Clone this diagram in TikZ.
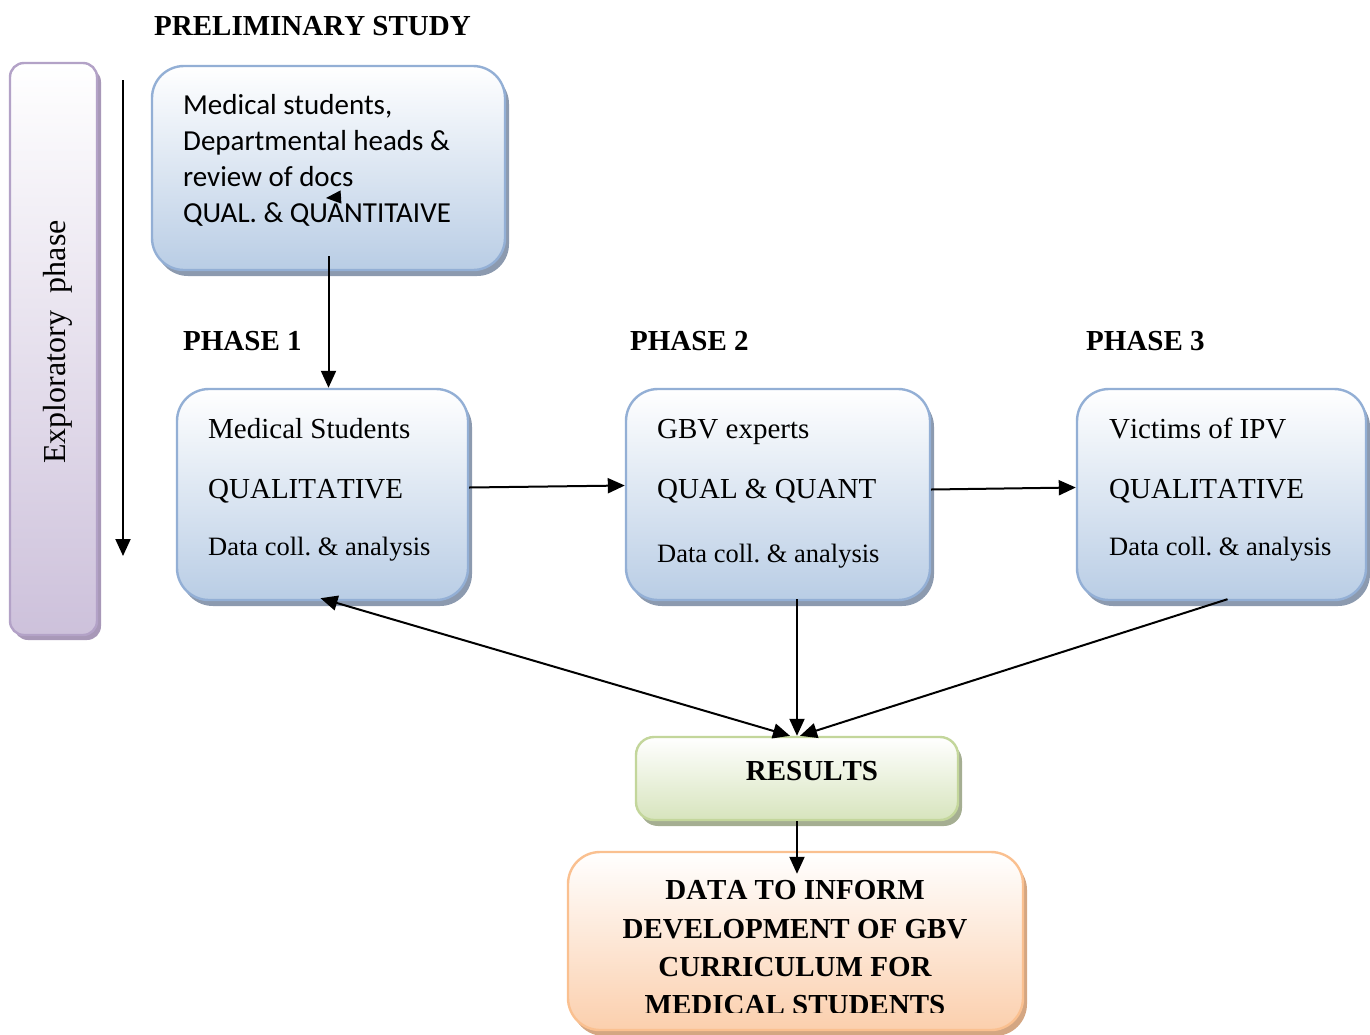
\documentclass[tikz,border=0pt]{standalone}
\usepackage{fontspec}
\setmainfont{Liberation Serif}[Kerning=Off]
\newfontfamily\calibrifont{Carlito}
\usetikzlibrary{arrows.meta,calc,shadows}
\frenchspacing

\definecolor{bluedge}{HTML}{93AFD5}
\definecolor{bluebot}{HTML}{B9CDE5}
\definecolor{blueshadow}{HTML}{8C9AAF}
\definecolor{greenedge}{HTML}{C3D69B}
\definecolor{greenbot}{HTML}{D7E4BD}
\definecolor{greenshadow}{HTML}{A5AE92}
\definecolor{orangeedge}{HTML}{FAC090}
\definecolor{orangebot}{HTML}{FBCFAD}
\definecolor{orangeshadow}{HTML}{D4A682}
\definecolor{purpleedge}{HTML}{B3A2C7}
\definecolor{purplebot}{HTML}{CDC1DB}
\definecolor{purpleshadow}{HTML}{A898B8}

\begin{document}
\begin{tikzpicture}[x=1pt,y=-1pt,
  >={Triangle[length=17pt,width=15pt]},
  card/.style={rounded corners=#1, line width=2.4pt, inner sep=0pt},
  bluecard/.style={card=32pt, draw=bluedge, top color=white, bottom color=bluebot,
    drop shadow={shadow xshift=4pt,shadow yshift=-6pt,fill=blueshadow,opacity=1}},
  greencard/.style={card=18pt, draw=greenedge, top color=white, bottom color=greenbot,
    drop shadow={shadow xshift=4pt,shadow yshift=-6pt,fill=greenshadow,opacity=1}},
  orangecard/.style={card=32pt, draw=orangeedge, top color=white, bottom color=orangebot,
    drop shadow={shadow xshift=4pt,shadow yshift=-6pt,fill=orangeshadow,opacity=1}},
  purplecard/.style={card=14pt, draw=purpleedge, top color=white, bottom color=purplebot,
    drop shadow={shadow xshift=4pt,shadow yshift=-5pt,fill=purpleshadow,opacity=1}},
  serif/.style={font=\fontsize{29}{35}\selectfont, anchor=base west, inner sep=0pt},
  small/.style={font=\fontsize{26.5}{32}\selectfont, anchor=base west, inner sep=0pt},
  headline/.style={font=\fontsize{29}{35}\selectfont\bfseries, anchor=base west, inner sep=0pt},
  centreline/.style={font=\fontsize{29}{35}\selectfont\bfseries, anchor=base, inner sep=0pt},
  cal/.style={font=\calibrifont\fontsize{29}{36}\selectfont, anchor=base west, inner sep=0pt},
  arr/.style={line width=2pt, ->},
  dblarr/.style={line width=2pt, <->},
]
\useasboundingbox (0,0) rectangle (1370,1034);

% boxes
\node[purplecard, minimum width=87pt, minimum height=572pt] (exp) at (53.5,349) {};
\node[bluecard, minimum width=353pt, minimum height=204pt] (top) at (328.5,168) {};
\node[bluecard, minimum width=291pt, minimum height=211pt] (p1) at (322.5,494.5) {};
\node[bluecard, minimum width=304pt, minimum height=211pt] (p2) at (778,494.5) {};
\node[bluecard, minimum width=289pt, minimum height=211pt] (p3) at (1221.5,494.5) {};
\node[greencard, minimum width=322pt, minimum height=83pt] (res) at (797,778.5) {};
\node[orangecard, minimum width=455pt, minimum height=178pt] (fin) at (795.5,941) {};

% headings
\node[headline] (prelim) at (154,35) {PRELIMINARY STUDY};
\node[headline] (ph1) at (183,350) {PHASE 1};
\node[headline] (ph2) at (630,350) {PHASE 2};
\node[headline] (ph3) at (1086,350) {PHASE 3};

% side label
\node[rotate=90, anchor=base, inner sep=0pt, font=\fontsize{32}{38}\selectfont] (explabel)
  at (65,342) {Exploratory\hspace{0.55em}phase};

% preliminary study text
\node[cal] (t1) at (183,114) {Medical students,};
\node[cal] (t2) at (183,150) {Departmental heads \&};
\node[cal] (t3) at (183,186) {review of docs};
\node[cal] (t4) at (183,222) {QUAL. \& QUANTITAIVE};

% phase 1
\node[serif] (a1) at (208,438) {Medical Students};
\node[serif] (a2) at (208,498) {QUALITATIVE};
\node[small] (a3) at (208,555) {Data coll. \& analysis};
% phase 2
\node[serif] (b1) at (657,438) {GBV experts};
\node[serif] (b2) at (657,498) {QUAL \& QUANT};
\node[small] (b3) at (657,562) {Data coll. \& analysis};
% phase 3
\node[serif] (c1) at (1109,438) {Victims of IPV};
\node[serif] (c2) at (1109,498) {QUALITATIVE};
\node[small] (c3) at (1109,555) {Data coll. \& analysis};

% results
\node[centreline] (rtext) at (812,780) {RESULTS};

% final box text, cut off by the text frame
\begin{scope}
  \clip (560,852) rectangle (1030,1012);
  \node[centreline] (f1) at (795,899) {DATA TO INFORM};
  \node[centreline] (f2) at (795,938) {DEVELOPMENT OF GBV};
  \node[centreline] (f3) at (795,976) {CURRICULUM FOR};
  \node[centreline] (f4) at (795,1014) {MEDICAL STUDENTS};
\end{scope}

% connectors
\coordinate (va) at (123,80);
\coordinate (vb) at (123,556);
\draw[arr] (va) -- (vb);

\coordinate (sa) at (341,197);
\coordinate (sb) at (326,198);
\draw[line width=1pt, -{Triangle[length=15pt,width=13pt]}] (sa) -- (sb);

\draw[arr] ([yshift=15pt]top.south) -- (top.south |- p1.north);
\draw[arr] ([yshift=7pt]p1.east) -- ([yshift=9pt]p2.west);
\draw[arr] ([yshift=5pt]p2.east) -- ([yshift=7pt]p3.west);
\draw[arr] ([yshift=2pt]p2.south -| res.north) -- (res.north);
\draw[dblarr] ([xshift=-2pt,yshift=3pt]p1.south) -- ([xshift=-7pt]res.north);
\draw[arr] ([xshift=6pt,yshift=2pt]p3.south) -- ([xshift=3pt]res.north);
\draw[arr] (res.south) -- ([yshift=-23pt]fin.north -| res.south);
\end{tikzpicture}
\end{document}
